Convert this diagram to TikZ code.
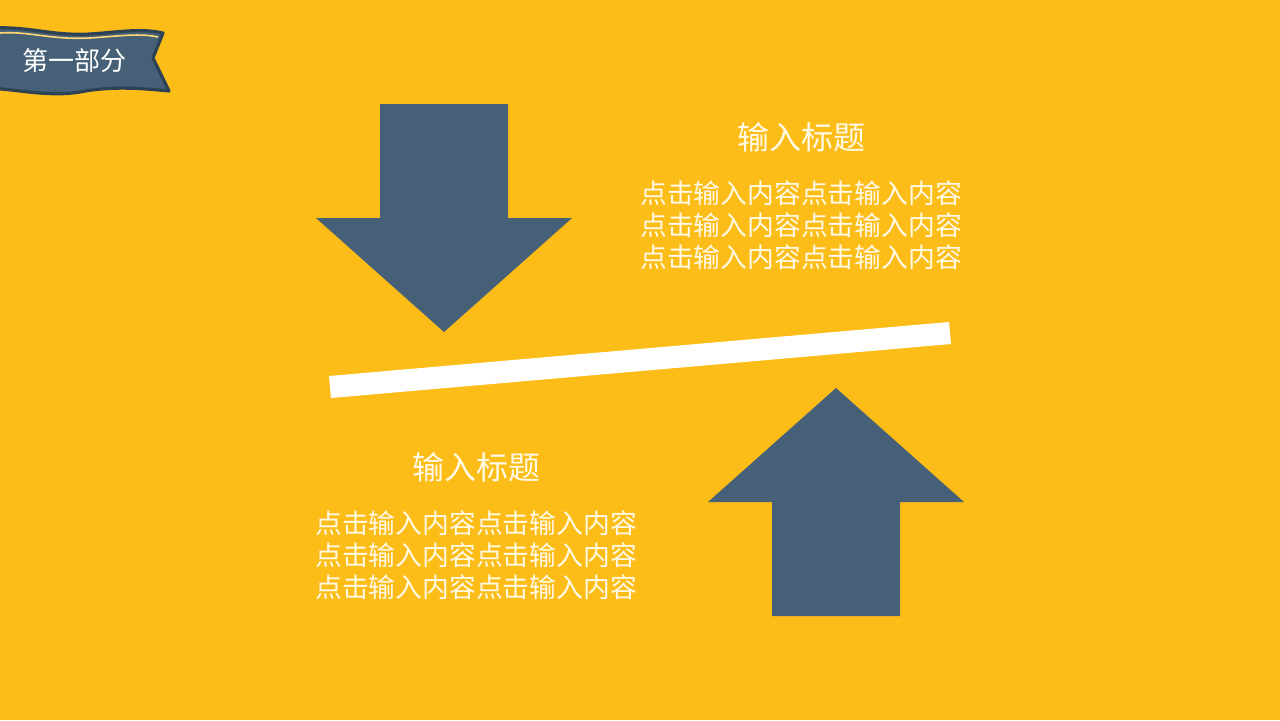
\documentclass[tikz,border=0pt]{standalone}
\usepackage{fontspec}
\newfontfamily\cjk{Noto Sans CJK SC}
\definecolor{bg}{HTML}{FDBD19}
\definecolor{slate}{HTML}{466177}
\definecolor{slatedark}{HTML}{2E4256}
\definecolor{txt}{HTML}{FFF9E6}
\begin{document}
\begin{tikzpicture}[x=0.5pt,y=-0.5pt,
  title/.style={text=txt,font=\cjk\fontsize{16}{19}\selectfont,inner sep=0pt},
  body/.style={text=txt,font=\cjk\fontsize{13.4}{16}\selectfont,align=center,inner sep=0pt},
  arrowshape/.style={fill=slate,draw=none}]
\useasboundingbox (0,0) rectangle (1280,720);
\fill[bg] (0,0) rectangle (1280,720);
% banner
\draw[slatedark,line width=1.6pt,fill=slate,line join=round]
  (-10,28) .. controls (30,26) and (50,36) .. (90,34)
  .. controls (120,32) and (140,28) .. (163,33)
  -- (153,58) -- (169,91)
  .. controls (140,88) and (110,86) .. (80,92)
  .. controls (50,97) and (20,90) .. (-10,88) -- cycle;
\draw[bg!60!white,line width=0.8pt] (0,33) .. controls (30,31) and (50,40) .. (90,38)
  .. controls (120,36) and (140,33) .. (158,37);
\node[text=white,font=\cjk\fontsize{13}{15}\selectfont,inner sep=0pt] (banner) at (75,61) {第一部分};
% down arrow
\path[arrowshape] (380,104) -- (508,104) -- (508,218) -- (572,218) -- (444,332) -- (316,218) -- (380,218) -- cycle;
\coordinate (downtip) at (444,332);
% up arrow
\path[arrowshape] (772,616) -- (900,616) -- (900,502) -- (964,502) -- (836,388) -- (708,502) -- (772,502) -- cycle;
\coordinate (uptip) at (836,388);
% white bar
\fill[white] (329,376) -- (949,322) -- (951,344) -- (331,398) -- cycle;
% texts
\node[title] (t1) at (801,137) {输入标题};
\node[body] (b1) at (801,225) {点击输入内容点击输入内容\\点击输入内容点击输入内容\\点击输入内容点击输入内容};
\node[title] (t2) at (476,467) {输入标题};
\node[body] (b2) at (476,555) {点击输入内容点击输入内容\\点击输入内容点击输入内容\\点击输入内容点击输入内容};
\end{tikzpicture}
\end{document}
